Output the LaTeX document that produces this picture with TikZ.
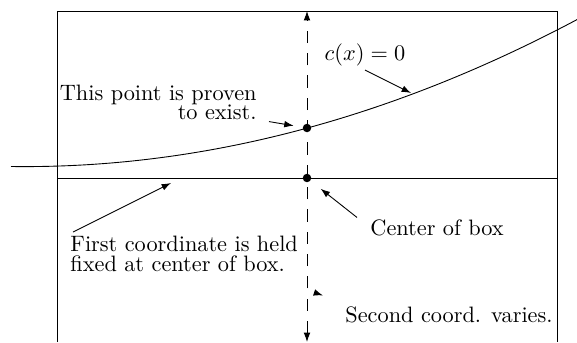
\documentclass[tikz,border=0pt]{standalone}
\usepackage{amsmath}
\usepackage{tikz}
\usetikzlibrary{arrows.meta,calc}

\tikzset{
  lbl/.style={inner sep=0pt, font=\normalsize},
  dot/.style={circle, fill=black, inner sep=0pt, minimum size=3.8pt},
  ptr/.style={-{Latex[length=4.2pt,width=3pt]}},
  sweep/.style={dash pattern=on 5.5pt off 4.5pt, {Latex[length=4.2pt,width=3pt]}-{Latex[length=4.2pt,width=3pt]}},
}

\begin{document}
\begin{tikzpicture}[x=0.4484pt, y=-0.4484pt]
      \useasboundingbox (0,0) rectangle (577,342);

      % Box and its middle line
      \draw (57,342) -- (57,11) -- (557,11) -- (557,342);
      \draw (57,178) -- (557,178);

      % Constraint curve c(x)=0
      \draw (11,166.5) .. controls (199.3,169.0) and (388,120.0) .. (577,19.6);

      % Line through the center, second coordinate free
      \coordinate (top) at (307,11);
      \coordinate (bot) at (307,342);
      \draw[sweep] (bot) -- (top);
      \node[dot] (mid) at (307,178) {};
      \node[dot] (root) at (307,128) {};

      % Labels
      \node[lbl, anchor=base] (czero) at (365,60) {$c(x)=0$};
      \coordinate (oncurve) at (411,93);
      \draw[ptr] ($(czero.south)+(0,4)$) -- (oncurve);

      \node[lbl, anchor=north east, align=right] (proven) at (257,85) {This point is proven\\[-3.5pt]to exist.};
      \draw[ptr, shorten >=4pt] ($(proven.south east)+(12,1)$) -- (root);

      \node[lbl, anchor=north west, align=left] (first) at (70,236) {First coordinate is held\\[-3pt]fixed at center of box.};
      \coordinate (onmid) at (171,183);
      \draw[ptr] ($(first.north west)+(3,-4)$) -- (onmid);

      \node[lbl, anchor=west] (cbox) at (370,228) {Center of box};
      \draw[ptr, shorten >=5.7pt] ($(cbox.north west)+(-13,-2)$) -- (mid);

      \node[lbl, anchor=west] (vary) at (345,315) {Second coord. varies.};
      \draw[ptr] ($(vary.north west)+(-28,-13)$) -- ($(vary.north west)+(-22,-11)$);
\end{tikzpicture}
\end{document}
